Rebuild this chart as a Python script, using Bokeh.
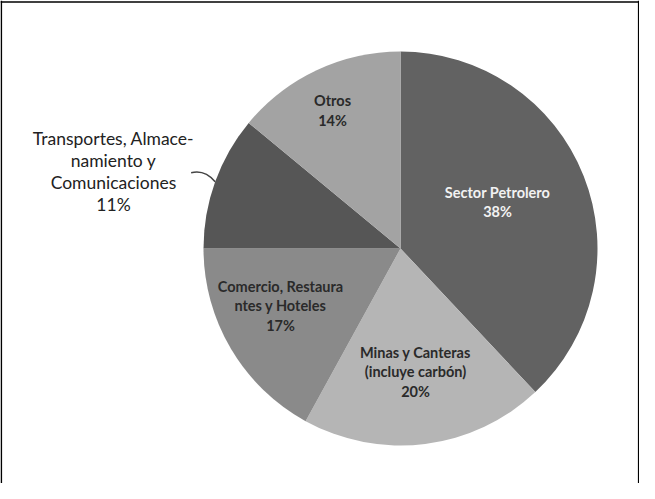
import numpy as np
from bokeh.plotting import figure
from bokeh.models import ColumnDataSource, Span
from bokeh.core.properties import value
from bokeh.embed import file_html
from bokeh.resources import INLINE

# ---- data ----
categories = ["Sector Petrolero", "Minas y Canteras\n(incluye carbón)",
              "Comercio, Restaura\nntes y Hoteles", "Transportes, Almace-\nnamiento y\nComunicaciones",
              "Otros"]
shares = [38, 20, 17, 11, 14]
pct_labels = ["38%", "20%", "17%", "11%", "14%"]

# ---- style / layout ----
colors = ["#626262", "#b5b5b5", "#8a8a8a", "#565656", "#a3a3a3"]
text_colors = ["#f2f2f2", "#2a2a2a", "#2a2a2a", "#222222", "#2a2a2a"]
W, H = 639, 483
CX, CY, R = 400, 235, 197
# label block centers, offsets from pie center (pixels)
label_dx = [97, 15, -120, -287, -68]
label_dy = [46.5, -123.5, -57.5, 77, 138]

vals = np.array(shares, dtype=float)
frac = vals / vals.sum()
ends = np.pi / 2 - 2 * np.pi * np.cumsum(frac)
starts = ends + 2 * np.pi * frac
mids = (starts + ends) / 2

p = figure(width=W, height=H, x_range=(0, W), y_range=(0, H),
           output_backend="svg", toolbar_location=None, min_border=0)
p.axis.visible = False
p.xgrid.grid_line_color = None
p.ygrid.grid_line_color = None
p.outline_line_color = None
p.background_fill_color = "white"
p.border_fill_color = "white"

# frame: left, right, top (no bottom edge, as in the reference crop)
for loc, dim in [(0.8, "height"), (W - 0.8, "height"), (H - 1.5, "width")]:
    p.add_layout(Span(location=loc, dimension=dim, line_color="#000000", line_width=1.6))

src = ColumnDataSource(dict(start=ends, end=starts, color=colors))
p.wedge(x=CX, y=CY, radius=R, start_angle="start", end_angle="end",
        fill_color="color", line_color=None, source=src)

# labels
texts = [c + "\n" + pc for c, pc in zip(categories, pct_labels)]
lx = [CX + d for d in label_dx]
ly = [CY + d for d in label_dy]
inside = [0, 1, 2, 4]
p.text(x=[lx[i] for i in inside], y=[ly[i] for i in inside],
       text=[texts[i] for i in inside], text_color=[text_colors[i] for i in inside],
       text_font=value("Lato"), text_font_style="bold", text_font_size="14.5px",
       text_align="center", text_baseline="middle", text_line_height=1.12)
p.text(x=[lx[3]], y=[ly[3]], text=[texts[3]], text_color=text_colors[3],
       text_font=value("Lato"), text_font_size="17.5px",
       text_align="center", text_baseline="middle", text_line_height=1.05)

# leader line for Transportes
ex = CX + R * np.cos(mids[3])
ey = CY + R * np.sin(mids[3])
p.bezier(x0=[ex - 24], y0=[ey + 9], x1=[ex], y1=[ey],
         cx0=[ex - 12], cy0=[ey + 12], cx1=[ex - 5], cy1=[ey + 6],
         line_color="#444444", line_width=1.5)

open("out.html", "w").write(file_html(p, INLINE))
